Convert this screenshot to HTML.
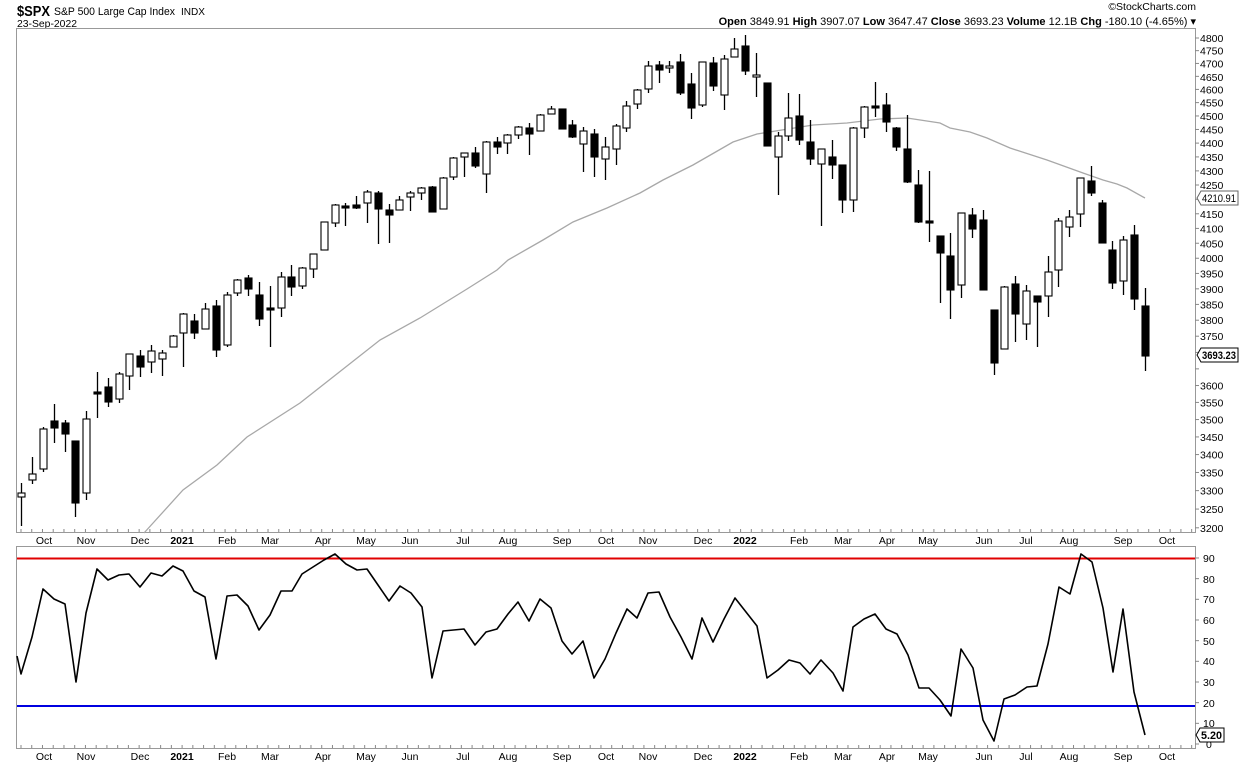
<!DOCTYPE html>
<html><head><meta charset="utf-8"><style>
html,body{margin:0;padding:0;background:#fff;width:1240px;height:764px;overflow:hidden}
svg{display:block}
text{font-family:"Liberation Sans",Arial,sans-serif;fill:#000}
</style></head><body>
<svg id="s" width="1240" height="764" viewBox="0 0 1240 764" xmlns="http://www.w3.org/2000/svg">
<rect width="1240" height="764" fill="#fff"/>
<!-- header -->
<text x="17" y="16" font-size="14.5" font-weight="bold" textLength="33" lengthAdjust="spacingAndGlyphs">$SPX</text>
<text x="54" y="15" font-size="11" textLength="121" lengthAdjust="spacingAndGlyphs">S&amp;P 500 Large Cap Index</text>
<text x="181" y="15" font-size="10" textLength="24" lengthAdjust="spacingAndGlyphs">INDX</text>
<text x="17" y="27" font-size="10.5" textLength="60" lengthAdjust="spacingAndGlyphs">23-Sep-2022</text>
<text x="1196" y="10" font-size="10.5" text-anchor="end" fill="#333">©StockCharts.com</text>
<text x="1196" y="25" font-size="11" text-anchor="end"><tspan font-weight="bold">Open</tspan> 3849.91  <tspan font-weight="bold">High</tspan> 3907.07  <tspan font-weight="bold">Low</tspan> 3647.47  <tspan font-weight="bold">Close</tspan> 3693.23  <tspan font-weight="bold">Volume</tspan> 12.1B  <tspan font-weight="bold">Chg</tspan> -180.10 (-4.65%) ▾</text>
<!-- frames -->
<rect x="16.5" y="28.5" width="1179" height="504" fill="none" stroke="#999" stroke-width="1"/>
<rect x="16.5" y="546.5" width="1179" height="202" fill="none" stroke="#999" stroke-width="1"/>
<g id="ticks" stroke="#888" stroke-width="1"></g>
<!-- price axis labels -->
<g font-size="10.5" id="yl">
<text x="1200" y="42">4800</text><text x="1200" y="54.6">4750</text><text x="1200" y="67.4">4700</text><text x="1200" y="80.8">4650</text><text x="1200" y="93.4">4600</text><text x="1200" y="106.6">4550</text><text x="1200" y="120">4500</text><text x="1200" y="133.5">4450</text><text x="1200" y="147.1">4400</text><text x="1200" y="160.9">4350</text><text x="1200" y="174.9">4300</text><text x="1200" y="189">4250</text><text x="1200" y="217.8">4150</text><text x="1200" y="232.4">4100</text><text x="1200" y="247.3">4050</text><text x="1200" y="262.2">4000</text><text x="1200" y="277.4">3950</text><text x="1200" y="292.8">3900</text><text x="1200" y="308.4">3850</text><text x="1200" y="324.2">3800</text><text x="1200" y="340.2">3750</text><text x="1200" y="389.5">3600</text><text x="1200" y="406.4">3550</text><text x="1200" y="423.5">3500</text><text x="1200" y="440.9">3450</text><text x="1200" y="458.6">3400</text><text x="1200" y="476.5">3350</text><text x="1200" y="494.6">3300</text><text x="1200" y="513.1">3250</text><text x="1200" y="531.8">3200</text>
</g>
<!-- osc axis labels -->
<g font-size="10.5">
<text x="1203" y="562">90</text><text x="1203" y="583">80</text><text x="1203" y="603">70</text><text x="1203" y="624">60</text><text x="1203" y="645">50</text><text x="1203" y="665">40</text><text x="1203" y="686">30</text><text x="1203" y="707">20</text><text x="1203" y="727">10</text><text x="1206" y="748">0</text>
</g>
<!-- month labels -->
<g font-size="10.5" text-anchor="middle" id="ml">
<text x="44" y="544">Oct</text><text x="86" y="544">Nov</text><text x="140" y="544">Dec</text><text x="182" y="544" font-weight="bold">2021</text><text x="227" y="544">Feb</text><text x="270" y="544">Mar</text><text x="323" y="544">Apr</text><text x="366" y="544">May</text><text x="410" y="544">Jun</text><text x="463" y="544">Jul</text><text x="508" y="544">Aug</text><text x="562" y="544">Sep</text><text x="606" y="544">Oct</text><text x="648" y="544">Nov</text><text x="703" y="544">Dec</text><text x="745" y="544" font-weight="bold">2022</text><text x="799" y="544">Feb</text><text x="843" y="544">Mar</text><text x="887" y="544">Apr</text><text x="928" y="544">May</text><text x="984" y="544">Jun</text><text x="1026" y="544">Jul</text><text x="1069" y="544">Aug</text><text x="1123" y="544">Sep</text><text x="1167" y="544">Oct</text>
</g>
<g font-size="10.5" text-anchor="middle">
<text x="44" y="760">Oct</text><text x="86" y="760">Nov</text><text x="140" y="760">Dec</text><text x="182" y="760" font-weight="bold">2021</text><text x="227" y="760">Feb</text><text x="270" y="760">Mar</text><text x="323" y="760">Apr</text><text x="366" y="760">May</text><text x="410" y="760">Jun</text><text x="463" y="760">Jul</text><text x="508" y="760">Aug</text><text x="562" y="760">Sep</text><text x="606" y="760">Oct</text><text x="648" y="760">Nov</text><text x="703" y="760">Dec</text><text x="745" y="760" font-weight="bold">2022</text><text x="799" y="760">Feb</text><text x="843" y="760">Mar</text><text x="887" y="760">Apr</text><text x="928" y="760">May</text><text x="984" y="760">Jun</text><text x="1026" y="760">Jul</text><text x="1069" y="760">Aug</text><text x="1123" y="760">Sep</text><text x="1167" y="760">Oct</text>
</g>
<!-- MA line -->
<polyline fill="none" stroke="#a8a8a8" stroke-width="1.3" points="144,533 183,490 217,465 247,437 300,403 380,340 420,318 467,289 497,270 508,260 543,240 573,222 607,208 640,193 663,180 693,165 733,142 757,134 813,125 847,123 880,119 907,118 940,123 950,128 970,132 987,138 1010,148 1047,160 1083,173 1103,180 1117,184 1127,188 1145,198"/>
<g id="candles"></g>
<!-- osc -->
<line x1="17" y1="558.5" x2="1195" y2="558.5" stroke="#e00000" stroke-width="2"/>
<line x1="17" y1="706" x2="1195" y2="706" stroke="#0000e0" stroke-width="2"/>
<polyline fill="none" stroke="#000" stroke-width="1.6" stroke-linejoin="round" points="17,656 21,674 32,637 43,589 54,599 65,604 76,682 86,613 97,569 108,580 119,575 129,574 140,587 151,573 162,576 173,566 183,571 194,591 205,597 216,659 227,596 237,595 248,606 259,630 270,615 281,591 292,591 302,574 313,567 324,560 335,554 346,564 357,570 367,569 378,585 389,601 400,586 411,593 422,607 432,678 443,631 464,629 475,645 486,632 497,629 508,614 518,602 529,621 540,599 551,608 562,641 572,654 583,641 594,678 605,659 616,633 627,609 637,618 648,593 659,592 670,617 681,637 692,659 702,618 713,642 724,619 735,598 746,612 757,626 767,678 778,670 789,660 800,663 810,674 821,660 833,673 843,691 853,627 864,619 875,614 886,629 897,634 908,655 919,688 929,688 940,700 951,716 961,649 973,668 983,720 994,741 1004,699 1015,695 1027,687 1037,686 1048,644 1059,587 1070,594 1081,554 1092,562 1103,608 1113,672 1123,609 1134,692 1145,735"/>
<!-- value boxes -->
<g font-size="11">
<path d="M1197,198 L1201,191 L1238,191 L1238,205 L1201,205 Z" fill="#fff" stroke="#666"/>
<text x="1202" y="202" textLength="34" lengthAdjust="spacingAndGlyphs">4210.91</text>
<path d="M1197,355 L1201,348 L1238,348 L1238,362 L1201,362 Z" fill="#fff" stroke="#000"/>
<text x="1202" y="359" font-weight="bold" textLength="34" lengthAdjust="spacingAndGlyphs">3693.23</text>
<path d="M1196,735 L1200,728 L1224,728 L1224,742 L1200,742 Z" fill="#fff" stroke="#000"/>
<text x="1201" y="739" font-weight="bold" textLength="21" lengthAdjust="spacingAndGlyphs">5.20</text>
</g>
</svg>
<script>
var d=[[21,493,497,483,526,0],[32,474,480,457,484,0],[43,429,469,427,472,0],[54,421,428,404,443,1],[65,423,434,420,452,1],[75,441,503,441,517,1],[86,419,493,411,500,0],[97,392,394,372,418,1],[108,387,402,378,407,1],[119,374,399,372,403,0],[129,354,376,354,390,0],[140,356,367,350,377,1],[151,351,362,345,373,0],[162,353,359,350,376,0],[173,336,347,335,347,0],[183,314,333,313,367,0],[194,321,333,314,339,1],[205,309,329,303,329,0],[216,306,350,300,357,1],[227,295,345,292,347,0],[237,280,293,279,296,0],[248,278,289,275,296,1],[259,295,319,282,326,1],[270,308,310,286,347,1],[281,277,308,272,317,0],[291,277,287,265,296,1],[302,268,286,267,289,0],[313,254,269,254,278,0],[324,222,250,222,250,0],[335,205,223,204,227,0],[345,206,208,203,226,1],[356,205,208,196,209,1],[367,192,203,190,223,0],[378,193,209,191,244,1],[389,210,215,204,243,1],[399,200,210,196,210,0],[410,193,197,191,211,0],[421,188,193,187,200,0],[432,187,212,186,212,1],[443,178,209,177,209,0],[453,158,177,157,180,0],[464,153,157,153,177,0],[475,153,166,147,168,1],[486,142,174,141,193,0],[497,142,147,137,154,1],[507,135,143,134,154,0],[518,127,135,126,139,0],[529,128,134,123,155,1],[540,115,131,114,131,0],[551,109,114,106,114,0],[562,109,129,109,129,1],[572,125,137,120,138,1],[583,131,144,127,172,0],[594,134,157,129,177,1],[605,147,159,137,180,0],[616,126,149,124,165,0],[626,106,128,101,132,0],[637,90,104,89,109,0],[648,66,89,61,93,0],[659,65,70,61,83,1],[669,66,68,61,73,0],[680,62,93,54,95,1],[691,84,108,73,119,1],[702,62,105,62,107,0],[713,63,86,57,91,1],[724,59,95,55,110,0],[734,49,57,38,57,0],[745,46,71,35,75,1],[756,75,77,53,97,0],[767,83,146,83,146,1],[778,136,157,132,195,0],[788,118,136,93,141,0],[799,116,140,94,145,1],[810,142,159,120,165,1],[821,149,164,149,226,0],[832,157,165,140,179,1],[842,165,200,165,213,1],[853,128,200,127,212,0],[864,107,128,106,138,0],[875,106,108,82,117,1],[886,105,122,93,132,1],[896,128,147,127,151,1],[907,149,182,115,183,1],[918,185,222,170,223,1],[929,221,223,171,242,1],[940,236,253,236,303,1],[950,256,290,233,319,1],[961,213,285,213,298,0],[972,215,229,208,238,1],[983,220,290,210,290,1],[994,310,363,310,375,1],[1004,287,349,286,349,0],[1015,284,314,276,342,1],[1026,291,324,285,340,0],[1037,296,302,296,347,1],[1048,272,296,256,317,0],[1058,221,270,218,287,0],[1069,217,227,210,237,0],[1080,178,214,178,227,0],[1091,181,193,166,196,1],[1102,203,243,200,243,1],[1112,250,283,241,289,1],[1123,240,281,236,295,0],[1134,235,299,225,310,1],[1145,306,356,288,371,1]];
var g=document.getElementById("candles"),h="";
d.forEach(function(c){var x=c[0]+0.5;
h+='<line x1="'+x+'" y1="'+c[3]+'" x2="'+x+'" y2="'+c[4]+'" stroke="#000" stroke-width="1.3"/>';
var hh=Math.max(c[2]-c[1],1.5);
h+='<rect x="'+(c[0]-3)+'" y="'+c[1]+'" width="7" height="'+hh+'" fill="'+(c[5]?'#000':'#fff')+'" stroke="#000" stroke-width="1.1"/>';});
g.innerHTML=h;
var t="";for(var x=21;x<1195;x+=10.74){t+='<line x1="'+x+'" y1="529" x2="'+x+'" y2="532"/><line x1="'+x+'" y1="745" x2="'+x+'" y2="748"/>';}
for(var i=0;i<33;i++){var p=4800-50*i,y=38+1208*Math.log(4800/p);t+='<line x1="1195" y1="'+y+'" x2="1199" y2="'+y+'"/>';}
for(var v=0;v<=90;v+=10){var y=744-v*2.067;t+='<line x1="1195" y1="'+y+'" x2="1199" y2="'+y+'"/>';}
document.getElementById("ticks").innerHTML=t;
</script>
</body></html>
